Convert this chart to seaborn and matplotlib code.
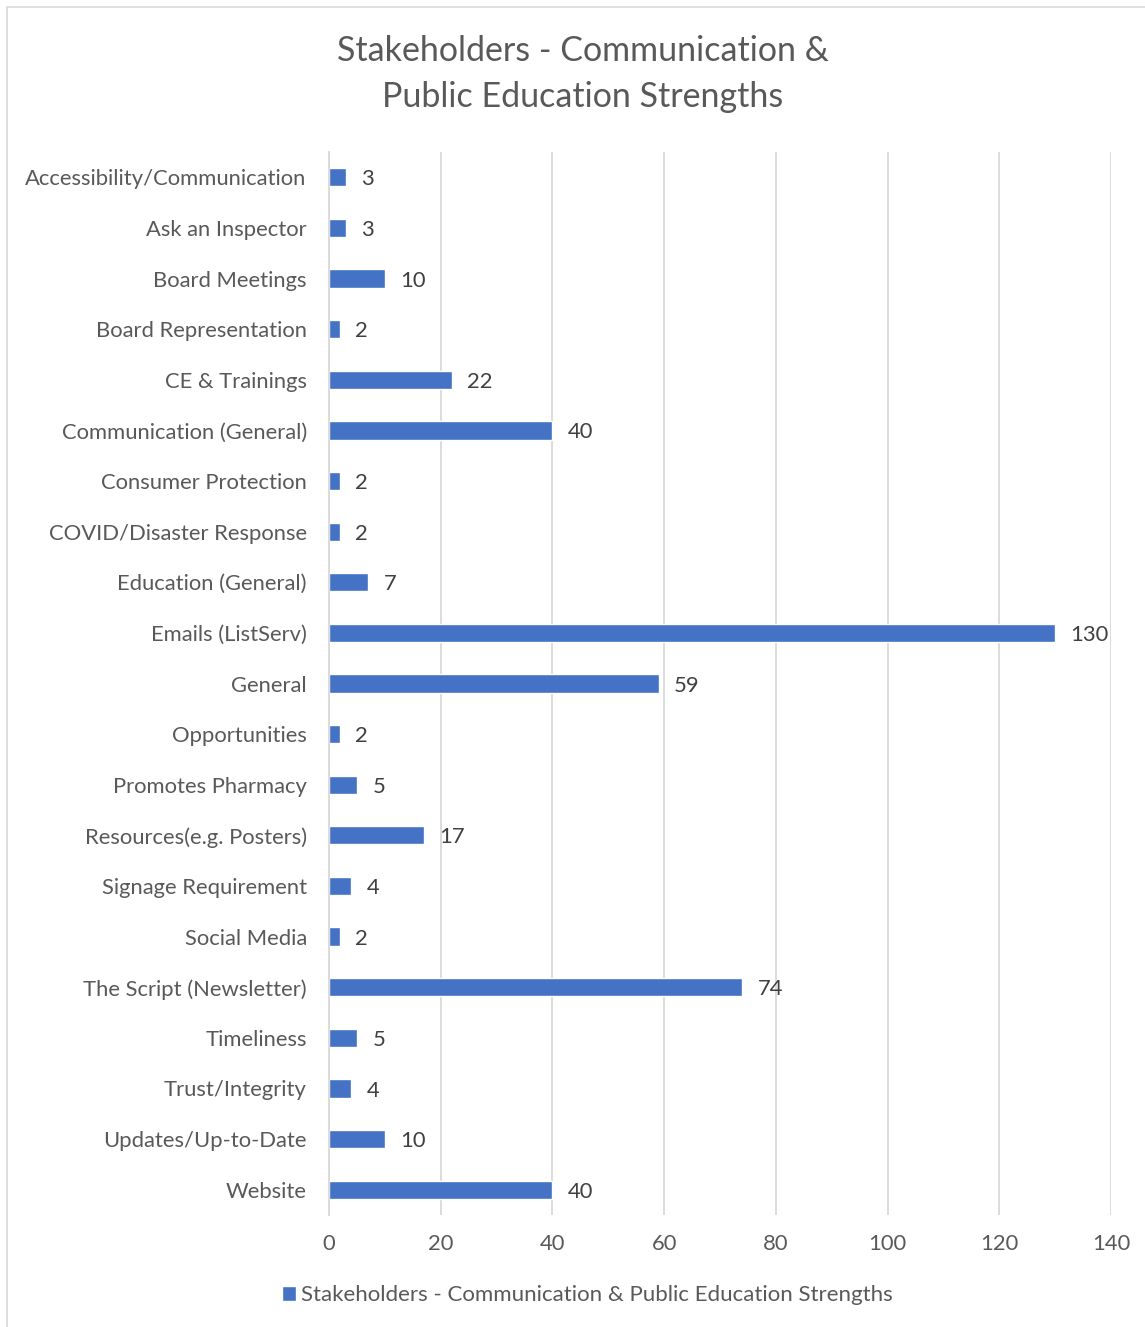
import matplotlib
matplotlib.use("Agg")
import matplotlib.pyplot as plt
from matplotlib.patches import Rectangle
import seaborn as sns
import pandas as pd

categories = [
    "Accessibility/Communication", "Ask an Inspector", "Board Meetings",
    "Board Representation", "CE & Trainings", "Communication (General)",
    "Consumer Protection", "COVID/Disaster Response", "Education (General)",
    "Emails (ListServ)", "General", "Opportunities", "Promotes Pharmacy",
    "Resources(e.g. Posters)", "Signage Requirement", "Social Media",
    "The Script (Newsletter)", "Timeliness", "Trust/Integrity",
    "Updates/Up-to-Date", "Website",
]
counts = [3, 3, 10, 2, 22, 40, 2, 2, 7, 130, 59, 2, 5, 17, 4, 2, 74, 5, 4, 10, 40]
series_name = "Stakeholders - Communication & Public Education Strengths"
x_ticks = [0, 20, 40, 60, 80, 100, 120, 140]

sns.set_theme(style="white")
plt.rcParams["font.family"] = ["Lato", "DejaVu Sans"]

TEXT = "#595959"
BAR = "#4472C4"
GRID = "#D9D9D9"

df = pd.DataFrame({"category": categories, "count": counts})

fig = plt.figure(figsize=(11.45, 13.27), dpi=100)
fig.patch.set_facecolor("white")
fig.patches.append(Rectangle((7 / 1145, -0.01), 1.02, 1 - 7 / 1327 + 0.01,
                             transform=fig.transFigure, fill=False,
                             edgecolor="#D9D9D9", linewidth=1.2))

ax = fig.add_axes([329 / 1145, 112 / 1327, 782 / 1145, 1063 / 1327])
sns.barplot(data=df, y="category", x="count", orient="h", color=BAR,
            width=0.36, ax=ax, saturation=1, label=series_name)

ax.set_xlim(0, 140)
ax.set_xticks(x_ticks)
ax.set_ylim(len(categories) - 0.5, -0.5)
ax.grid(axis="x", color=GRID, linewidth=1.3)
ax.grid(axis="y", visible=False)
ax.set_axisbelow(True)
for side in ["top", "right", "bottom"]:
    ax.spines[side].set_visible(False)
ax.spines["left"].set_color(GRID)
ax.spines["left"].set_linewidth(1.3)
ax.set_xlabel("")
ax.set_ylabel("")
ax.tick_params(axis="both", length=0, labelsize=15.8, colors=TEXT)
ax.tick_params(axis="y", pad=16)
ax.tick_params(axis="x", pad=14)

for container in ax.containers:
    labels = ax.bar_label(container, labels=[str(v) for v in counts],
                          padding=11, fontsize=15.8, color="#404040")
    for lbl in labels:
        lbl.xyann = (11, -1.5)

fig.text(0.509, 1 - 51 / 1327, "Stakeholders - Communication &",
         ha="center", va="center", fontsize=24.5, color=TEXT)
fig.text(0.509, 1 - 97 / 1327, "Public Education Strengths",
         ha="center", va="center", fontsize=24.5, color=TEXT)

leg = ax.legend(loc="center", bbox_to_anchor=(587 / 1145, 1 - 1295 / 1327),
                bbox_transform=fig.transFigure, frameon=False, fontsize=16.0,
                handlelength=0.65, handleheight=0.65, handletextpad=0.2)
for t in leg.get_texts():
    t.set_color(TEXT)

fig.savefig("out.png", dpi=100)
